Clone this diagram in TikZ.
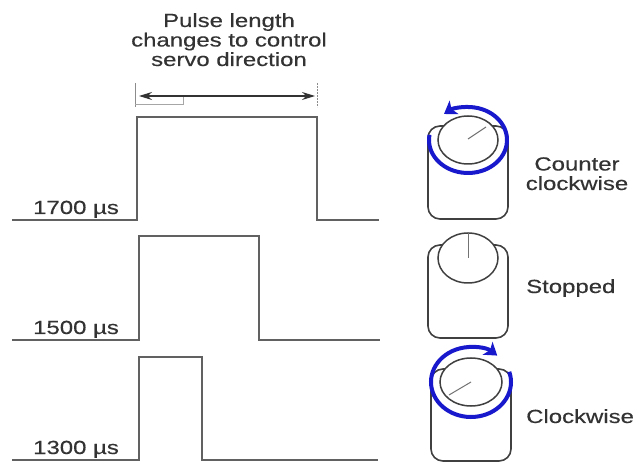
\documentclass[tikz,border=0pt]{standalone}
\usepackage{fontspec}
\setmainfont{Liberation Sans}[FakeStretch=1.26,FakeBold=0.4]
\usetikzlibrary{arrows.meta,calc}
\definecolor{ink}{gray}{0.2}
\definecolor{wave}{gray}{0.38}
\definecolor{servoline}{gray}{0.25}
\definecolor{ringblue}{RGB}{24,24,205}
\begin{document}
\begin{tikzpicture}[x=1pt,y=-1pt,
  labeltext/.style={font=\fontsize{19}{19.5}\selectfont, text=ink, inner sep=0pt},
  pulse/.style={draw=wave, line width=2.2pt, line join=miter},
  servobody/.style={draw=servoline, line width=1.6pt, rounded corners=12pt},
  horn/.style={draw=servoline, line width=1.5pt, fill=white},
  needle/.style={draw=black!55, line width=1pt},
  ring/.style={draw=ringblue, line width=4pt, -{Stealth[length=12pt,width=16pt,inset=3pt]}},
  span/.style={draw=ink, line width=1.3pt, {Stealth[length=13pt,width=8pt]}-{Stealth[length=13pt,width=8pt]}},
  spantick/.style={draw=black!45, line width=1pt}]

\useasboundingbox (0,0) rectangle (635,462);

% heading and the span it refers to (base anchor = last line)
\node[labeltext, align=center, anchor=base] (title) at (229,66)
  {Pulse length\\changes to control\\servo direction};
\coordinate (spanL) at (139,96);
\coordinate (spanR) at (315,96);
\draw[spantick] (135,83) -- (135,107);
\draw[spantick, dash pattern=on 2pt off 1pt] (317,83) -- (317,107);
\draw[draw=black!35, line width=0.8pt] (135,104) -| (183,95);
\draw[span] (spanL) -- (spanR);

% pulse trains
\draw[pulse] (12,220) -| (137,117) -| (317,220) -- (379,220);
\draw[pulse] (12,340) -| (139,236) -| (259,340) -- (380,340);
\draw[pulse] (12,460) -| (139,357) -| (202,460) -- (378,460);

\node[labeltext, anchor=base west] (p1700) at (33,214) {1700 µs};
\node[labeltext, anchor=base west] (p1500) at (33,334) {1500 µs};
\node[labeltext, anchor=base west] (p1300) at (33,454) {1300 µs};

% servo turning counter clockwise
\begin{scope}[shift={(468,140)}]
  \draw[servobody] (-40,-14) rectangle (40,79);
  \draw[horn] (0,0) ellipse [x radius=30, y radius=24];
  \draw[needle] (0,-1) -- (18,-13);
  \draw[ring] (189:39 and 33) arc[start angle=189, end angle=-128, x radius=39, y radius=33];
\end{scope}

% servo at rest
\begin{scope}[shift={(468,258)}]
  \draw[servobody] (-40,-13) rectangle (40,80);
  \draw[horn] (0,0) ellipse [x radius=30, y radius=25];
  \draw[needle] (0,0) -- (0,-25);
\end{scope}

% servo turning clockwise
\begin{scope}[shift={(471,382)}]
  \draw[servobody] (-40,-13) rectangle (40,79);
  \draw[horn] (0,0) ellipse [x radius=31, y radius=24];
  \draw[needle] (0,0) -- (-22,13);
  \draw[ring] (-17:40 and 35) arc[start angle=-17, end angle=311, x radius=40, y radius=35];
\end{scope}

\node[labeltext, align=center, anchor=base] (ccw) at (577,190) {Counter\\clockwise};
\node[labeltext, anchor=base west] (stop) at (526,293) {Stopped};
\node[labeltext, anchor=base west] (cw) at (526,423) {Clockwise};
\end{tikzpicture}
\end{document}
